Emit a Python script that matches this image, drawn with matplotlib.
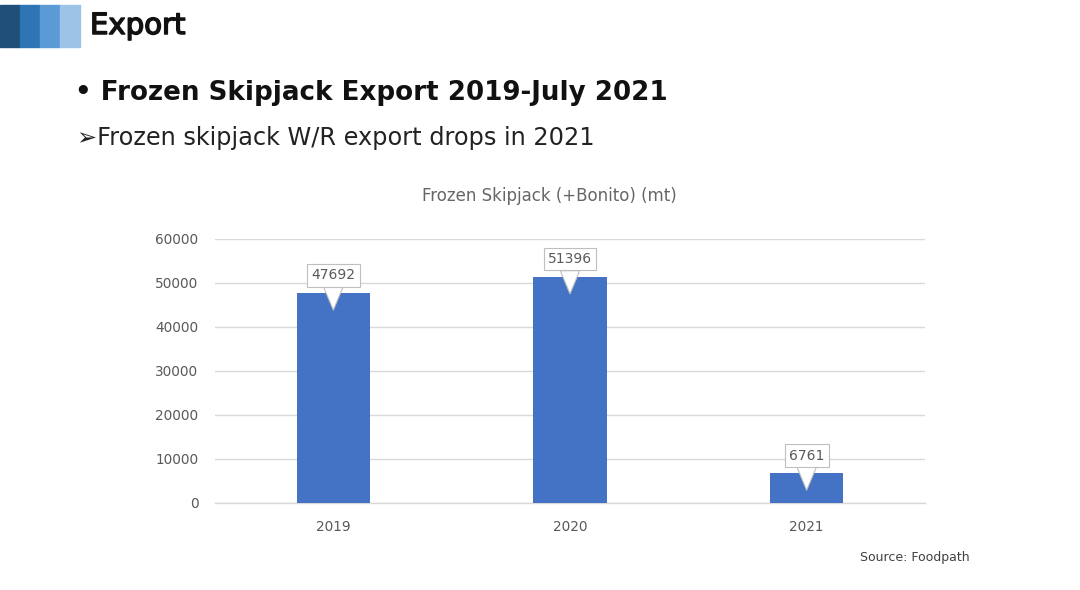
import matplotlib
matplotlib.use('Agg')
import matplotlib.pyplot as plt
from matplotlib.patches import Rectangle
import matplotlib.transforms as mtransforms
import matplotlib.patheffects as pe

years = ['2019', '2020', '2021']
export_mt = [47692, 51396, 6761]
y_ticks = [0, 10000, 20000, 30000, 40000, 50000, 60000]

header_colors = ['#1F4E79', '#2E75B6', '#5B9BD5', '#9DC3E6']
bar_color = '#4472C4'
gray_txt = '#595959'

plt.rcParams['font.family'] = ['DejaVu Sans']

fig = plt.figure(figsize=(10.8, 5.9), dpi=100)
fig.patch.set_facecolor('white')

# header squares and slide title
for k, c in enumerate(header_colors):
    fig.patches.append(Rectangle((k * 20 / 1080, 1 - 47 / 590), 20 / 1080, 42 / 590,
                                 transform=fig.transFigure, color=c, zorder=1))
fig.text(90 / 1080, 1 - 26 / 590, 'Export', fontsize=21, color='#111111',
         va='center', ha='left',
         path_effects=[pe.withStroke(linewidth=1.1, foreground='#111111')])
fig.text(75 / 1080, 1 - 93 / 590, '\u2022 Frozen Skipjack Export 2019-July 2021',
         fontsize=18.8, fontweight='bold', color='#111111', va='center', ha='left')
fig.text(77 / 1080, 1 - 138 / 590, '\u27a2Frozen skipjack W/R export drops in 2021',
         fontsize=17.3, color='#222222', va='center', ha='left')

# chart
ax = fig.add_axes([215 / 1080, 1 - 503 / 590, 710 / 1080, 264 / 590])
x = range(len(years))
ax.bar(x, export_mt, width=0.31, color=bar_color, zorder=2)
ax.set_xlim(-0.5, len(years) - 0.5)
ax.set_ylim(0, 60000)
ax.set_yticks(y_ticks)
ax.set_xticks(list(x))
ax.set_xticklabels(years)
ax.tick_params(length=0, colors=gray_txt, labelsize=9.8)
ax.tick_params(axis='y', pad=12)
ax.tick_params(axis='x', pad=12)
ax.grid(axis='y', color='#D9D9D9', linewidth=1, zorder=0)
ax.axhline(0, color='#D9D9D9', linewidth=1, zorder=1, clip_on=False)
for s in ax.spines.values():
    s.set_visible(False)

fig.text(549 / 1080, 1 - 196 / 590, 'Frozen Skipjack (+Bonito) (mt)', fontsize=12,
         color='#666666', ha='center', va='center')

# callout data labels
tip = mtransforms.offset_copy(ax.transData, fig=fig, y=-17, units='dots')
for i, v in enumerate(export_mt):
    ax.annotate(str(v), xy=(i, v), xycoords=tip, xytext=(0, 25),
                textcoords='offset points', ha='center', va='center',
                fontsize=10, color=gray_txt, zorder=5,
                bbox=dict(boxstyle='square,pad=0.3', fc='white', ec='#BFBFBF', lw=0.8),
                arrowprops=dict(arrowstyle='wedge,tail_width=1.4,shrink_factor=0.5',
                                fc='white', ec='#BFBFBF', lw=0.8, shrinkA=0, shrinkB=0))

fig.text(970 / 1080, 1 - 558 / 590, 'Source: Foodpath', fontsize=9,
         color='#404040', ha='right', va='center')

fig.savefig('out.png', dpi=100, facecolor='white')
